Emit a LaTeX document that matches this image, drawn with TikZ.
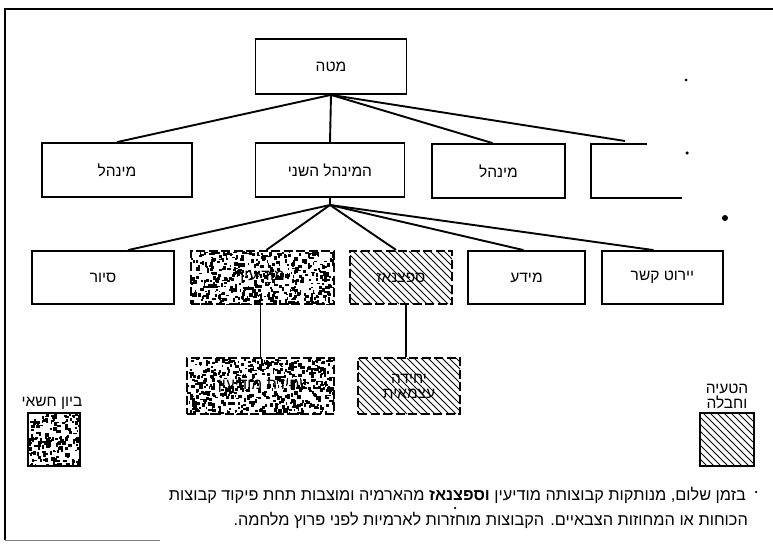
\documentclass[tikz,border=0pt]{standalone}
\usepackage{fontspec}
\usetikzlibrary{calc}
\newfontfamily\heb[Script=Hebrew]{Liberation Sans}
\TeXXeTstate=1
\newcommand{\hb}[1]{{\heb\beginR #1\endR}}
\pgfdeclarelayer{bg}
\pgfsetlayers{bg,main}
\newcommand{\mystipple}[5]{%
  \begin{scope}
    \clip (#1,#2) rectangle (#3,#4);
    \foreach \i in {1,...,#5}{%
      \fill ({#1+rnd*(#3-#1)},{#2+rnd*(#4-#2)}) rectangle ++({1.2+2.8*rnd},{1.2+2.8*rnd});
    }
  \end{scope}}
\newcommand{\myhatch}[4]{%
  \begin{scope}
    \clip (#1,#2) rectangle (#3,#4);
    \pgfmathsetmacro\hs{#1-(#4-#2)}
    \pgfmathsetmacro\hn{\hs+7}
    \foreach \t in {\hs,\hn,...,#3}{%
      \draw[line width=0.8pt] (\t,#2) -- ++({#4-#2},{#4-#2});
    }
  \end{scope}}
\begin{document}
\begin{tikzpicture}[x=1pt,y=-1pt,
  lbl/.style={font=\heb\fontsize{15.5}{18}\selectfont},
  box/.style={lbl, draw, line width=1.8pt, inner sep=0pt, minimum height=54pt},
  dbox/.style={box, line width=2.2pt, dash pattern=on 9pt off 3.5pt},
  lbox/.style={draw, line width=2pt, inner sep=0pt},
  link/.style={line width=1.9pt},
  dotn/.style={fill, circle, inner sep=0pt, minimum size=#1}]
\useasboundingbox (0,0) rectangle (773,545);
\pgfmathsetseed{7}
% frame
\draw[line width=1.5pt] (5,540) -- (5,9) -- (773,9);
\draw[line width=0.5pt, gray] (5,540) -- (160,540);

% level 1
\node[box, minimum width=151pt, minimum height=55pt] (top) at (331,66.5) {\hb{מטה}};
% level 2
\node[box, minimum width=150pt] (m1) at (117,170) {\hb{מינהל}};
\node[box, minimum width=149pt] (m2) at (330,170) {\hb{המינהל השני}};
\node[box, minimum width=133pt] (m3) at (498.5,171) {\hb{מינהל}};
\coordinate (m4nw) at (591,144);
\coordinate (m4top) at (625,141);
\draw[link] ($(m4nw)+(56,0)$) -- (m4nw) -- ++(0,54) -- ++(91,0);
% level 3
\node[box, minimum width=142pt, minimum height=53pt] (sior) at (103,277.5) {\hb{סיור}};
\node[dbox, minimum width=143pt, minimum height=53pt] (modiin) at (262.5,277.5) {\hb{מודיעין}};
\node[dbox, minimum width=102pt, minimum height=53pt] (spets) at (401,277.5) {\hb{ספצנאז}};
\node[box, minimum width=117pt, minimum height=53pt] (meida) at (526.5,277.5) {\hb{מידע}};
\node[box, minimum width=121pt, minimum height=53pt] (yirut) at (662.5,277.5) {\hb{יירוט קשר}};
% level 4
\node[dbox, minimum width=147pt, minimum height=56pt] (unita) at (260.5,386) {\hb{יחידת מודיעין}};
\node[dbox, minimum width=102pt, minimum height=56pt, align=center] (unitb) at (409,386) {\hb{יחידה}\\[-3pt]\hb{עצמאית}};
% legend
\node[lbox, minimum width=52pt, minimum height=53pt] (lega) at (54,439.5) {};
\node[lbox, minimum width=54pt, minimum height=53pt] (legb) at (727,439.5) {};
\node[lbl] (legat) at (52,403) {\hb{ביון חשאי}};
\node[lbl, align=center, inner sep=0pt] (legbt) at (727,396) {\hb{הטעיה}\\[-3pt]\hb{וחבלה}};

% textures
\begin{pgfonlayer}{bg}
  \mystipple{191}{251}{334}{304}{520}
  \mystipple{187}{358}{334}{414}{560}
  \mystipple{28}{413}{80}{466}{190}
  \myhatch{350}{251}{452}{304}
  \myhatch{358}{358}{460}{414}
  \myhatch{700}{413}{754}{466}
\end{pgfonlayer}

% connectors level 1 -> 2
\draw[link] (top.south) -- (m1.north);
\draw[link] (top.south) -- (m2.north);
\draw[link] (top.south) -- ($(m3.north)+(-6,0)$);
\draw[link] (top.south) -- (m4top);
% level 2 -> 3
\coordinate (hub) at (330,205);
\draw[link] (m2.south) -- (hub);
\draw[link] (hub) -- ($(sior.north)+(25,0)$);
\draw[link] (hub) -- ($(modiin.north)+(4,0)$);
\draw[link] (hub) -- ($(spets.north)+(-5,0)$);
\draw[link] (hub) -- ($(meida.north)+(-3,0)$);
\draw[link] (hub) -- ($(yirut.north)+(-9,0)$);
% level 3 -> 4
\draw[link] (unita.north |- modiin.south) -- (unita.north);
\coordinate (spx) at ($(spets.south)+(5,0)$);
\draw[link] (spx) -- (spx |- unitb.north);

% stray dots
\node[dotn=3pt] (d1) at (686,80) {};
\node[dotn=3.5pt] (d2) at (687,153) {};
\node[dotn=6pt] (d3) at (725,218) {};
\node[dotn=2.5pt] (d4) at (455,508) {};
\node[dotn=2.5pt] (bul) at (756,492) {};

% bottom text
\node[font=\heb\fontsize{16.3}{19}\selectfont, anchor=east, inner sep=0pt] (t1) at (746,495) {\hb{בזמן שלום, מנותקות קבוצותה מודיעין \textbf{וספצנאז} מהארמיה ומוצבות תחת פיקוד קבוצות}};
\node[font=\heb\fontsize{16.3}{19}\selectfont, anchor=east, inner sep=0pt] (t2) at (748,520) {\hb{הכוחות או המחוזות הצבאיים. הקבוצות מוחזרות לארמיות לפני פרוץ מלחמה.}};
\end{tikzpicture}
\end{document}
